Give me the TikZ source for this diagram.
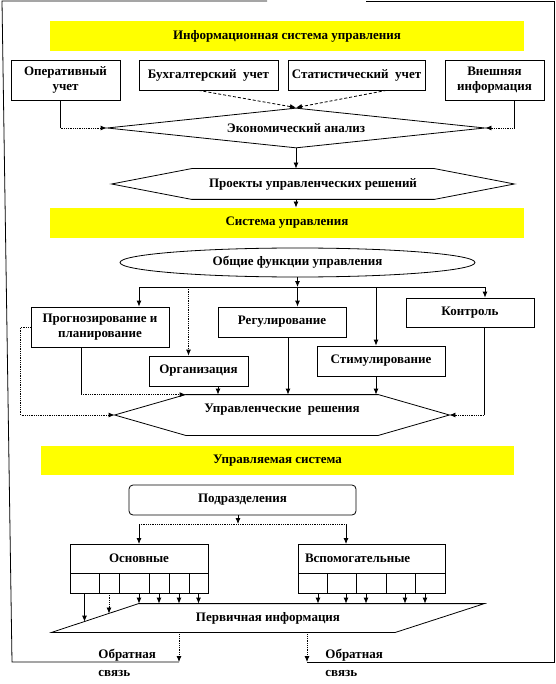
\documentclass[tikz,border=0pt]{standalone}
\usepackage{fontspec}
\setmainfont{Liberation Serif}
\usepackage{xcolor}
\usepackage{tikz}
\usetikzlibrary{positioning,shapes.geometric,arrows.meta,calc}
\definecolor{banner}{RGB}{255,255,0}

\begin{document}
\begin{tikzpicture}[
  x=1pt, y=-1pt, line width=0.8pt,
  every node/.style={font=\bfseries\fontsize{13}{15.5}\selectfont},
  box/.style={rectangle, draw, fill=white, align=center, inner sep=2pt},
  band/.style={rectangle, fill=banner, minimum width=474pt, minimum height=30pt},
  hexnode/.style={rectangle, inner sep=0pt},
  cell/.style={rectangle, draw, minimum height=20pt, outer sep=0pt, inner sep=0pt},
  link/.style={-{Latex[length=6pt,width=5pt]}},
  dots/.style={densely dotted}
]
  \useasboundingbox (0,0) rectangle (555,684);

  % information system
  \node[band] (isu) at (287,36) {Информационная система управления};
  \node[box, minimum width=109pt, minimum height=40pt] (oper) at (65.5,80) {Оперативный\\учет};
  \node[box, minimum width=139pt, minimum height=30pt] (buh) at (208.5,75) {Бухгалтерский\ \ учет};
  \node[box, minimum width=137pt, minimum height=30pt] (stat) at (356.5,75) {Статистический\ \ учет};
  \node[box, minimum width=99pt, minimum height=40pt] (ext) at (494.5,80) {Внешняя\\информация};
  \node[diamond, draw, aspect=8, minimum width=378pt, minimum height=40pt, inner sep=0pt] (econ) at (296,128) {Экономический анализ};

  \draw ([xshift=-5pt]oper.south) -- ([xshift=-5pt]oper.south |- econ.west) edge[link, dots] (econ.west);
  \draw[link, densely dashed] ([xshift=-10pt]buh.south) -- (econ.north);
  \draw[link, densely dashed] ([xshift=30pt]stat.south) -- (econ.north);
  \draw ([xshift=20pt]ext.south) -- ([xshift=20pt]ext.south |- econ.east) edge[link, dots] (econ.east);

  \node[hexnode, minimum width=402pt, minimum height=30pt] (proj) at (313,184) {Проекты управленческих решений};
  \draw (proj.west) -- ([xshift=80pt]proj.north west) -- ([xshift=-80pt]proj.north east) -- (proj.east)
    -- ([xshift=-80pt]proj.south east) -- ([xshift=80pt]proj.south west) -- cycle;
  \draw[link] (econ.south) -- (econ.south |- proj.north);

  % management system
  \node[band] (su) at (287,223) {Система управления};
  \draw[link] (econ.south |- proj.south) -- (econ.south |- su.north);

  \node[ellipse, draw, minimum width=355pt, minimum height=29pt] (gen) at (297.5,262.5) {Общие функции управления};
  \node[box, minimum width=138pt, minimum height=40pt] (prog) at (100,327) {Прогнозирование и\\планирование};
  \node[box, minimum width=99pt, minimum height=30pt] (org) at (198.5,371) {Организация};
  \node[box, minimum width=128pt, minimum height=30pt] (reg) at (282,322) {Регулирование};
  \node[box, minimum width=128pt, minimum height=30pt] (stim) at (381,361) {Стимулирование};
  \node[box, minimum width=128pt, minimum height=29pt] (ctrl) at (470,312.5) {Контроль};

  \coordinate (fbus) at (297.5,287);
  \draw[link] (gen.south) -- (fbus);
  \draw ([xshift=39pt]prog.north |- fbus) -- ([xshift=15pt]ctrl.north |- fbus);
  \draw[link] ([xshift=39pt]prog.north |- fbus) -- ([xshift=39pt]prog.north);
  \draw[link, dots] ([xshift=-10pt]org.north |- fbus) -- ([xshift=-10pt]org.north);
  \draw[link] (fbus) -- (fbus |- reg.north);
  \draw[link] ([xshift=-5pt]stim.north |- fbus) -- ([xshift=-5pt]stim.north);
  \draw[link] ([xshift=15pt]ctrl.north |- fbus) -- ([xshift=15pt]ctrl.north);

  \node[hexnode, minimum width=334pt, minimum height=40pt] (dec) at (282,415) {\raisebox{3pt}[0pt][0pt]{Управленческие\ \ решения}};
  \draw (dec.west) -- ([xshift=71pt]dec.north west) -- ([xshift=-71pt]dec.north east) -- (dec.east)
    -- ([xshift=-71pt]dec.south east) -- ([xshift=71pt]dec.south west) -- cycle;

  \draw ([xshift=-19pt]prog.south) -- ([xshift=-19pt]prog.south |- dec.north) edge[link, dots] ([xshift=71pt]dec.north west);
  \draw[link] ([xshift=19.5pt]org.south) -- ([xshift=19.5pt]org.south |- dec.north);
  \draw[link] ([xshift=6pt]reg.south) -- ([xshift=6pt]reg.south |- dec.north);
  \draw[link] ([xshift=-5pt]stim.south) -- ([xshift=-5pt]stim.south |- dec.north);
  \draw ([xshift=14pt]ctrl.south) -- ([xshift=14pt]ctrl.south |- dec.east) edge[link, dots] (dec.east);
  \draw[link, dots] (prog.west) -- ++(-10,0) |- (dec.west);

  % managed system
  \node[band, minimum width=473pt, minimum height=29pt] (ms) at (277.5,460.5) {Управляемая система};
  \node[box, rounded corners=4pt, minimum width=227pt, minimum height=30pt] (dept) at (242.5,500) {Подразделения};

  \node[box, minimum width=138pt, minimum height=29pt, outer sep=0pt] (main) at (139,558.5) {Основные};
  \node[cell, minimum width=29pt, anchor=north west] (m1) at (main.south west) {};
  \foreach \w [count=\i from 2, remember=\i as \j (initially 1)] in {20,30,20,20,19}
    \node[cell, minimum width=\w pt, right=0pt of m\j] (m\i) {};

  \node[box, minimum width=147pt, minimum height=29pt, outer sep=0pt, text width=133pt, inner xsep=7pt, align=left] (aux) at (371.5,558.5) {Вспомогательные};
  \node[cell, minimum width=29pt, anchor=north west] (a1) at (aux.south west) {};
  \foreach \w [count=\i from 2, remember=\i as \j (initially 1)] in {29,30,29,30}
    \node[cell, minimum width=\w pt, right=0pt of a\j] (a\i) {};

  \coordinate (dbus) at (238,524);
  \draw[link] ([xshift=-4.5pt]dept.south) -- (dbus);
  \draw[dots] (main.north |- dbus) -- ([xshift=-25.5pt]aux.north |- dbus);
  \draw[link] (main.north |- dbus) -- (main.north);
  \draw[link] ([xshift=-25.5pt]aux.north |- dbus) -- ([xshift=-25.5pt]aux.north);

  \node[hexnode, minimum width=432pt, minimum height=28pt] (prim) at (268,618) {Первичная информация};
  \draw (prim.south west) -- ([xshift=87pt]prim.north west) -- (prim.north east) -- ([xshift=-89pt]prim.south east) -- cycle;

  \coordinate (ptl) at ([xshift=87pt]prim.north west);
  \coordinate (s1) at ($(prim.south west)!0.374!(ptl)$);
  \coordinate (s2) at ($(prim.south west)!0.655!(ptl)$);
  \draw[link] (m1.south) -- (m1.south |- s1);
  \draw[link, dots] (m2.south) -- (m2.south |- s2);
  \foreach \c/\dx in {3/5,4/0,5/0,6/0}
    \draw[link] ([xshift=\dx pt]m\c.south) -- ([xshift=\dx pt]m\c.south |- prim.north);
  \foreach \c/\dx in {1/5.5,2/4.5,3/-5,4/4.5,5/-5}
    \draw[link] ([xshift=\dx pt]a\c.south) -- ([xshift=\dx pt]a\c.south |- prim.north);

  % feedback and frame
  \coordinate (fbl) at (179,662);
  \coordinate (fbr) at (307,662);
  \draw[link, dots] (prim.south -| fbl) -- (fbl);
  \draw[link, dots] (prim.south -| fbr) -- (fbr);
  \draw (267,1) -- (2,1) -- (12,662) -- (fbl);
  \draw (366,1) -- (554,1) -- (554,662) -- (fbr);
  \node[anchor=west, align=left, inner sep=0pt, font=\bfseries\fontsize{13}{18}\selectfont] (fbltxt) at (98,663) {Обратная\\связь};
  \node[anchor=west, align=left, inner sep=0pt, font=\bfseries\fontsize{13}{18}\selectfont] (fbrtxt) at (325,663) {Обратная\\связь};
\end{tikzpicture}
\end{document}
